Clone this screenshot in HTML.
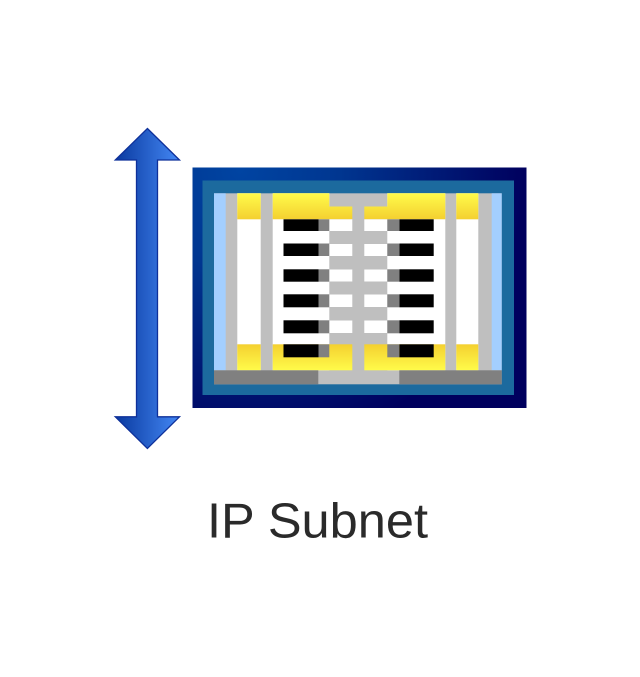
<!DOCTYPE html>
<html><head><meta charset="utf-8"><title>IP Subnet</title>
<style>html,body{margin:0;padding:0;background:#fff}svg{display:block}</style></head>
<body>
<svg xmlns="http://www.w3.org/2000/svg" width="640" height="677" viewBox="0 0 640 677">
<defs>
<radialGradient id="o" gradientUnits="userSpaceOnUse" cx="240" cy="170" r="285"><stop offset="0" stop-color="#0044a2"/><stop offset="0.35" stop-color="#003690"/><stop offset="1" stop-color="#00005e"/></radialGradient>
<linearGradient id="yt" gradientUnits="userSpaceOnUse" x1="0" y1="193.3" x2="0" y2="219.3"><stop offset="0" stop-color="#fffb4a"/><stop offset="1" stop-color="#f4d030"/></linearGradient>
<linearGradient id="yb" gradientUnits="userSpaceOnUse" x1="0" y1="370.3" x2="0" y2="344.3"><stop offset="0" stop-color="#fffb4a"/><stop offset="1" stop-color="#f4d030"/></linearGradient>
<linearGradient id="a" gradientUnits="userSpaceOnUse" x1="116" y1="0" x2="180" y2="0"><stop offset="0" stop-color="#0a3aa0"/><stop offset="1" stop-color="#4488f5"/></linearGradient>
</defs>
<rect width="640" height="677" fill="#fff"/>

<polygon points="147.4,128.5 179.5,160 157.5,160 157.5,416.8 179.5,416.8 147.4,448.5 115.3,416.8 136.5,416.8 136.5,160 115.3,160" fill="url(#a)" stroke="#0e309a" stroke-width="1.3"/>

<rect x="192.5" y="167.5" width="334" height="240.5" fill="url(#o)"/>
<rect x="202.5" y="180.5" width="311.5" height="214.5" fill="#1c6a9e"/>
<rect x="214" y="193.3" width="287.7" height="191" fill="#bfbfbf"/>

<rect x="214" y="193.3" width="11.7" height="177" fill="#a3cfff"/>
<rect x="491.7" y="193.3" width="10" height="177" fill="#a3cfff"/>

<rect x="237.3" y="193.3" width="23.4" height="177" fill="#fff"/>
<rect x="456.3" y="193.3" width="22" height="177" fill="#fff"/>
<rect x="272.7" y="193.3" width="56.6" height="177" fill="#fff"/>
<rect x="387.3" y="193.3" width="58" height="177" fill="#fff"/>

<g fill="url(#yt)">
<rect x="237.3" y="193.3" width="23.4" height="26"/>
<rect x="456.3" y="193.3" width="22" height="26"/>
<polygon points="272.7,193.3 329.3,193.3 329.3,206.5 352.3,206.5 352.3,219.3 272.7,219.3"/>
<polygon points="387.3,193.3 445.3,193.3 445.3,219.3 364.3,219.3 364.3,206.5 387.3,206.5"/>
</g>
<g fill="url(#yb)">
<rect x="237.3" y="344.3" width="23.4" height="26"/>
<rect x="456.3" y="344.3" width="22" height="26"/>
<rect x="272.7" y="344.3" width="79.6" height="26"/>
<rect x="364.3" y="344.3" width="81" height="26"/>
</g>

<g fill="#fff">
<rect x="329.3" y="219.3" width="23" height="11.7"/><rect x="364.3" y="219.3" width="23" height="11.7"/>
<rect x="329.3" y="244" width="23" height="12"/><rect x="364.3" y="244" width="23" height="12"/>
<rect x="329.3" y="269.5" width="23" height="12"/><rect x="364.3" y="269.5" width="23" height="12"/>
<rect x="329.3" y="294.5" width="23" height="12.5"/><rect x="364.3" y="294.5" width="23" height="12.5"/>
<rect x="329.3" y="320.5" width="23" height="12.5"/><rect x="364.3" y="320.5" width="23" height="12.5"/>
</g>

<g fill="#000">
<rect x="283.5" y="219.3" width="35" height="11.7"/><rect x="399.3" y="219.3" width="34.4" height="11.7"/>
<rect x="283.5" y="243.5" width="35" height="12.5"/><rect x="399.3" y="243.5" width="34.4" height="12.5"/>
<rect x="283.5" y="269.3" width="35" height="12.4"/><rect x="399.3" y="269.3" width="34.4" height="12.4"/>
<rect x="283.5" y="294.3" width="35" height="13"/><rect x="399.3" y="294.3" width="34.4" height="13"/>
<rect x="283.5" y="320.3" width="35" height="13"/><rect x="399.3" y="320.3" width="34.4" height="13"/>
<rect x="283.5" y="344.3" width="35" height="13"/><rect x="399.3" y="344.3" width="34.4" height="13"/>
</g>
<g fill="#808080">
<rect x="318.5" y="219.3" width="10.8" height="11.7"/><rect x="387.3" y="219.3" width="12" height="11.7"/>
<rect x="318.5" y="243.5" width="10.8" height="12.5"/><rect x="387.3" y="243.5" width="12" height="12.5"/>
<rect x="318.5" y="269.3" width="10.8" height="12.4"/><rect x="387.3" y="269.3" width="12" height="12.4"/>
<rect x="318.5" y="294.3" width="10.8" height="13"/><rect x="387.3" y="294.3" width="12" height="13"/>
<rect x="318.5" y="320.3" width="10.8" height="13"/><rect x="387.3" y="320.3" width="12" height="13"/>
<rect x="318.5" y="344.3" width="10.8" height="13"/><rect x="387.3" y="344.3" width="12" height="13"/>
<rect x="214" y="370.3" width="104.3" height="14"/>
<rect x="399.3" y="370.3" width="102.4" height="14"/>
</g>

<text x="207" y="537.5" font-family="'Liberation Sans',sans-serif" font-size="49" fill="#2a2a2a" textLength="221" lengthAdjust="spacingAndGlyphs">IP Subnet</text>
</svg>
</body></html>
